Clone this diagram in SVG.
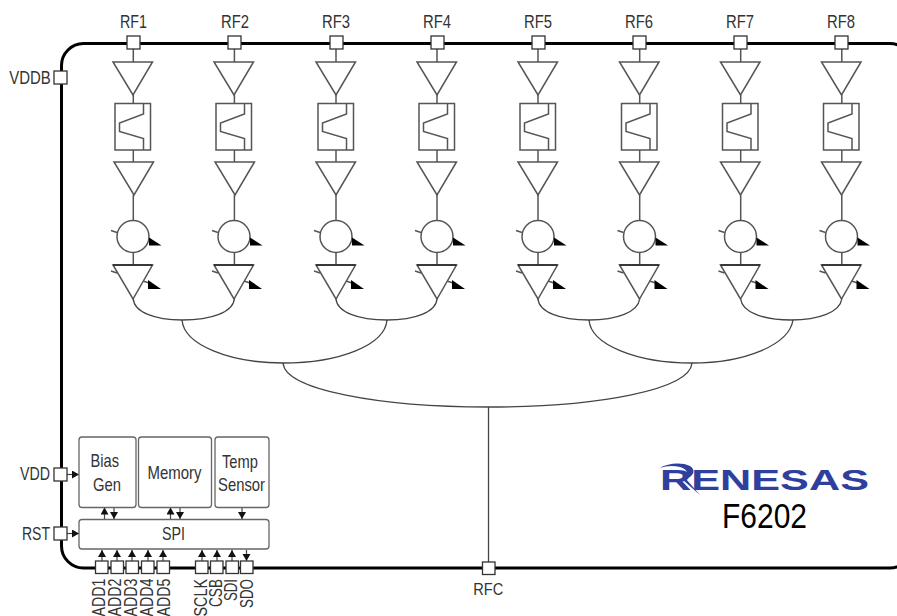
<svg xmlns="http://www.w3.org/2000/svg" width="897" height="616" viewBox="0 0 897 616">
<style>
text{font-family:"Liberation Sans",Arial,sans-serif;fill:#333;font-size:19px}
.s{fill:#fff;stroke:#555;stroke-width:1.5}
.w{fill:none;stroke:#555;stroke-width:1.5}
.c{fill:none;stroke:#444;stroke-width:1.3}
.pad{fill:#fff;stroke:#333;stroke-width:1.3}
.blk{fill:#fff;stroke:#666;stroke-width:1.3}
.a{fill:none;stroke:#444;stroke-width:1.2;marker-end:url(#ah)}
</style>
<defs>
<marker id="ah" markerUnits="userSpaceOnUse" markerWidth="9" markerHeight="9" refX="7" refY="4" orient="auto"><path d="M0 0L7 4L0 8Z" fill="#111"/></marker>
<g id="amp"><path class="s" d="M-20 0H19.500L0 33Z"/></g>
<g id="filter"><rect class="s" x="-18" y="0" width="35.500" height="46.500"/><path class="w" d="M10.500 0V10.500L-13.500 19.500V28L10.500 35V46.500"/></g>
<g id="phase"><circle class="s" cx="0" cy="0" r="16"/><path class="w" d="M-22 -6L-16 -4"/><path d="M16 1L28.500 9H16Z" fill="#000"/></g>
<g id="vga"><path class="s" d="M-20 0H19.500L0 34Z"/><path d="M-20 0H19.500" stroke="#222" stroke-width="1.300"/><path class="w" d="M-22 6L-16 8M10 16L16 18"/><path d="M15 15L28 24H15Z" fill="#000"/></g>
<path id="wires" class="w" d="M0 49V62M0 95V103.500M0 150V162M0 195V220.500M0 252.500V265"/>
</defs>

<rect id="chip" x="61.500" y="43.500" width="850.500" height="524.500" rx="22" ry="22" fill="#fff" stroke="#000" stroke-width="3"/>

<g id="connectors">
<use href="#wires" x="133.300"/><use href="#wires" x="234.400"/><use href="#wires" x="336"/><use href="#wires" x="437"/><use href="#wires" x="538"/><use href="#wires" x="639.700"/><use href="#wires" x="740.700"/><use href="#wires" x="841.800"/>
<path class="c" d="M133.300 299C134 312 155 320 182 320C212 320 233 312 234.400 299"/>
<path class="c" d="M336 299C337 312 358 320 387 320C415 320 436 312 437 299"/>
<path class="c" d="M538 299C539 312 560 320 589 320C617 320 638 312 639.700 299"/>
<path class="c" d="M740.700 299C742 312 763 320 791 320C819 320 840 312 841.800 299"/>
<path class="c" d="M182 320C184 345 230 363 283 363C340 363 385 345 387 320"/>
<path class="c" d="M589 320C591 345 637 363 692 363C745 363 789 345 793 320"/>
<path class="c" d="M283 363C285 390 380 407 488.500 407C597 407 690 390 692 363"/>
<path class="c" d="M488.500 407V562"/>
<path class="a" d="M67 474.500H79"/>
<path class="a" d="M67 533.500H79"/>
<path class="a" d="M104.500 519V507.500"/><path class="a" d="M114 507.500V519"/>
<path class="a" d="M170.500 519V507.500"/><path class="a" d="M180 507.500V519"/>
<path class="a" d="M242 507.500V519"/>
<path class="a" d="M102 561V550"/><path class="a" d="M117 561V550"/><path class="a" d="M132 561V550"/><path class="a" d="M148 561V550"/><path class="a" d="M163 561V550"/>
<path class="a" d="M202 561V550"/><path class="a" d="M217 561V550"/><path class="a" d="M232 561V550"/><path class="a" d="M246.500 550V561"/>
</g>

<g id="channel1"><use href="#amp" x="133" y="62"/><use href="#filter" x="133" y="103.500"/><use href="#amp" x="134" y="162"/><use href="#phase" x="133" y="236.500"/><use href="#vga" x="133" y="265"/></g>
<g id="channel2"><use href="#amp" x="234" y="62"/><use href="#filter" x="234" y="103.500"/><use href="#amp" x="235" y="162"/><use href="#phase" x="234" y="236.500"/><use href="#vga" x="234" y="265"/></g>
<g id="channel3"><use href="#amp" x="336" y="62"/><use href="#filter" x="336" y="103.500"/><use href="#amp" x="336" y="162"/><use href="#phase" x="336" y="236.500"/><use href="#vga" x="336" y="265"/></g>
<g id="channel4"><use href="#amp" x="437" y="62"/><use href="#filter" x="437" y="103.500"/><use href="#amp" x="437" y="162"/><use href="#phase" x="437" y="236.500"/><use href="#vga" x="437" y="265"/></g>
<g id="channel5"><use href="#amp" x="538" y="62"/><use href="#filter" x="538" y="103.500"/><use href="#amp" x="538" y="162"/><use href="#phase" x="538" y="236.500"/><use href="#vga" x="538" y="265"/></g>
<g id="channel6"><use href="#amp" x="639.500" y="62"/><use href="#filter" x="639.500" y="103.500"/><use href="#amp" x="639.500" y="162"/><use href="#phase" x="639.500" y="236.500"/><use href="#vga" x="639.500" y="265"/></g>
<g id="channel7"><use href="#amp" x="740.500" y="62"/><use href="#filter" x="740.500" y="103.500"/><use href="#amp" x="740.500" y="162"/><use href="#phase" x="740.500" y="236.500"/><use href="#vga" x="740.500" y="265"/></g>
<g id="channel8"><use href="#amp" x="841.500" y="62"/><use href="#filter" x="841.500" y="103.500"/><use href="#amp" x="841.500" y="162"/><use href="#phase" x="841.500" y="236.500"/><use href="#vga" x="841.500" y="265"/></g>

<g id="pads-rf">
<rect class="pad" x="127" y="36" width="13" height="13"/><rect class="pad" x="228" y="36" width="13" height="13"/><rect class="pad" x="330" y="36" width="13" height="13"/><rect class="pad" x="431" y="36" width="13" height="13"/><rect class="pad" x="532" y="36" width="13" height="13"/><rect class="pad" x="633" y="36" width="13" height="13"/><rect class="pad" x="734" y="36" width="13" height="13"/><rect class="pad" x="835" y="36" width="13" height="13"/>
</g>
<g id="rf-labels">
<text x="120" y="28" textLength="27" lengthAdjust="spacingAndGlyphs">RF1</text>
<text x="221" y="28" textLength="28" lengthAdjust="spacingAndGlyphs">RF2</text>
<text x="322" y="28" textLength="28" lengthAdjust="spacingAndGlyphs">RF3</text>
<text x="423" y="28" textLength="28" lengthAdjust="spacingAndGlyphs">RF4</text>
<text x="524" y="28" textLength="28" lengthAdjust="spacingAndGlyphs">RF5</text>
<text x="625" y="28" textLength="28" lengthAdjust="spacingAndGlyphs">RF6</text>
<text x="726" y="28" textLength="28" lengthAdjust="spacingAndGlyphs">RF7</text>
<text x="827" y="28" textLength="28" lengthAdjust="spacingAndGlyphs">RF8</text>
</g>
<g id="pin-VDDB"><rect class="pad" x="54" y="71" width="13" height="13"/><text x="9.300" y="84" textLength="41.500" lengthAdjust="spacingAndGlyphs">VDDB</text></g>
<g id="pin-VDD"><rect class="pad" x="54" y="468" width="13" height="13"/><text x="20" y="480" textLength="30" lengthAdjust="spacingAndGlyphs">VDD</text></g>
<g id="pin-RST"><rect class="pad" x="54" y="527" width="13" height="13"/><text x="22" y="540" textLength="28" lengthAdjust="spacingAndGlyphs">RST</text></g>
<g id="pin-RFC"><rect class="pad" x="482.500" y="562" width="12.500" height="12.500"/><text x="473.300" y="595" style="font-size:17px" textLength="30" lengthAdjust="spacingAndGlyphs">RFC</text></g>

<g id="bias-gen"><rect class="blk" x="79" y="437" width="57" height="70.500" rx="3"/><text x="90.500" y="467" textLength="28.500" lengthAdjust="spacingAndGlyphs">Bias</text><text x="93" y="490.500" textLength="28" lengthAdjust="spacingAndGlyphs">Gen</text></g>
<g id="memory"><rect class="blk" x="138.500" y="437" width="73" height="70.500" rx="3"/><text x="147.500" y="479" textLength="54" lengthAdjust="spacingAndGlyphs">Memory</text></g>
<g id="temp-sensor"><rect class="blk" x="215" y="437" width="54" height="70.500" rx="3"/><text x="222" y="468" textLength="36" lengthAdjust="spacingAndGlyphs">Temp</text><text x="218" y="491" textLength="47" lengthAdjust="spacingAndGlyphs">Sensor</text></g>
<g id="spi"><rect class="blk" x="79" y="519.500" width="190" height="29.500" rx="3"/><text x="162" y="540" textLength="23" lengthAdjust="spacingAndGlyphs">SPI</text></g>

<g id="bottom-pads">
<rect class="pad" x="95.500" y="561" width="12.500" height="12.500"/><rect class="pad" x="111" y="561" width="12.500" height="12.500"/><rect class="pad" x="126" y="561" width="12.500" height="12.500"/><rect class="pad" x="141.500" y="561" width="12.500" height="12.500"/><rect class="pad" x="157" y="561" width="12.500" height="12.500"/>
<rect class="pad" x="195.500" y="561" width="12.500" height="12.500"/><rect class="pad" x="210.500" y="561" width="12.500" height="12.500"/><rect class="pad" x="226" y="561" width="12.500" height="12.500"/><rect class="pad" x="240.500" y="561" width="12.500" height="12.500"/>
</g>
<g id="bottom-labels">
<text transform="translate(105 616.500) rotate(-90)" textLength="38" lengthAdjust="spacingAndGlyphs">ADD1</text>
<text transform="translate(120.500 616.500) rotate(-90)" textLength="38" lengthAdjust="spacingAndGlyphs">ADD2</text>
<text transform="translate(137 616.500) rotate(-90)" textLength="38" lengthAdjust="spacingAndGlyphs">ADD3</text>
<text transform="translate(153 616.500) rotate(-90)" textLength="38" lengthAdjust="spacingAndGlyphs">ADD4</text>
<text transform="translate(169.500 616.500) rotate(-90)" textLength="38" lengthAdjust="spacingAndGlyphs">ADD5</text>
<text transform="translate(207 616.500) rotate(-90)" textLength="37.500" lengthAdjust="spacingAndGlyphs">SCLK</text>
<text transform="translate(222 607) rotate(-90)" textLength="28" lengthAdjust="spacingAndGlyphs">CSB</text>
<text transform="translate(237 601) rotate(-90)" textLength="22" lengthAdjust="spacingAndGlyphs">SDI</text>
<text transform="translate(253 608) rotate(-90)" textLength="29" lengthAdjust="spacingAndGlyphs">SDO</text>
</g>

<g id="logo">
<text x="660" y="490" style="font-size:29px;font-weight:bold;fill:#2f3f9e" textLength="209" lengthAdjust="spacingAndGlyphs">RENESAS</text>
<path d="M659.500 468C668 463 682 462 690 466C696 470 694 476 686 479L700 495L683 480C690 476 688 469 680 467C672 465 666 466 659.500 468Z" fill="#2f3f9e"/>
<text x="722" y="528" style="font-size:35px;fill:#000" textLength="85" lengthAdjust="spacingAndGlyphs">F6202</text>
</g>
</svg>
